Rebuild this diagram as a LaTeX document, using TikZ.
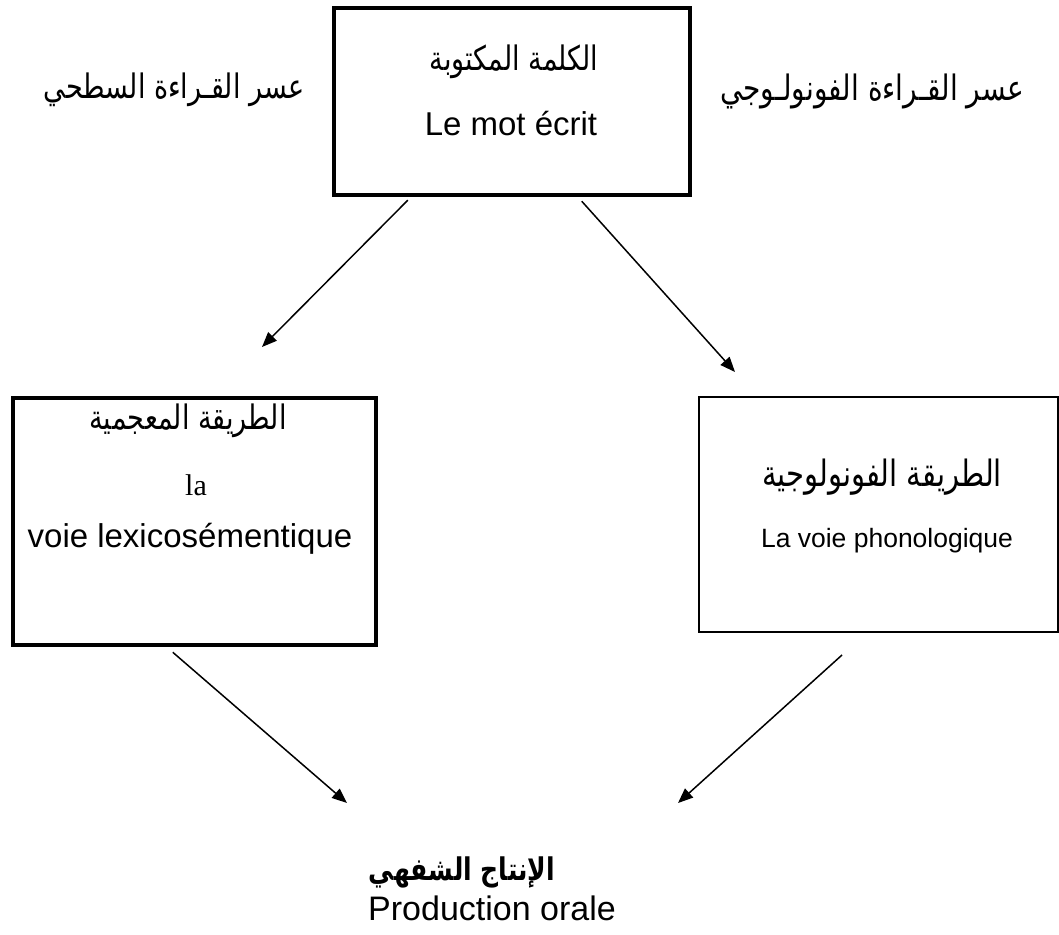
\documentclass[tikz,border=0pt]{standalone}
\usepackage{fontspec}
\usepackage{graphicx}
\setmainfont{Liberation Sans}
\newfontfamily\arabicfont[Script=Arabic]{DejaVu Sans}
\newfontfamily\seriffont{Liberation Serif}
\TeXXeTstate=1
\newcommand{\artext}[1]{\scalebox{1}[1.25]{\beginR #1\endR}}
\usepackage{tikz}
\usetikzlibrary{arrows.meta}
\usetikzlibrary{positioning}

\begin{document}
\begin{tikzpicture}[
        x=1pt, y=-1pt,
        % 
        thick box/.style={
            rectangle,
            draw,
            line width=4.5pt,
            inner sep=0pt,
        },
        % 
        thin box/.style={
            rectangle,
            draw,
            line width=2pt,
            inner sep=0pt,
        },
        arabic text/.style={font=\arabicfont\fontsize{27}{30}\selectfont, inner sep=0pt},
        latin text/.style={font=\fontsize{33}{38}\selectfont, inner sep=0pt, anchor=base},
        normal edge/.style={-{Triangle[length=15pt,width=12pt]}, line width=1.5pt}
        ]
        \useasboundingbox (0,0) rectangle (1059,934);
        
        % Vertices
        
        \node[thick box, minimum width=356pt, minimum height=187pt] (mot) at (512,101.5) {};
        \node[arabic text] (mot-ar) at (514,62) {\artext{الكلمة المكتوبة}};
        \node[latin text] (mot-fr) at (511,135) {Le mot écrit};
        
        \node[arabic text] (surf) at (174,90) {\artext{عسر القـراءة السطحي}};
        \node[arabic text, font=\arabicfont\fontsize{28}{30}\selectfont] (phon) at (872,91) {\artext{عسر القـراءة الفونولـوجي}};
        
        \node[thick box, minimum width=363pt, minimum height=247pt] (lex) at (194.5,521.5) {};
        \node[arabic text] (lex-ar) at (188,421) {\artext{الطريقة المعجمية}};
        \node[latin text, font=\seriffont\fontsize{30}{34}\selectfont] (lex-la) at (196,495) {la};
        \node[latin text] (lex-fr) at (190,547) {voie lexicosémentique};
        
        \node[thin box, minimum width=359pt, minimum height=235pt] (pho) at (878.5,514.5) {};
        \node[arabic text, font=\arabicfont\fontsize{29}{32}\selectfont] (pho-ar) at (882,477) {\artext{الطريقة الفونولوجية}};
        \node[latin text, font=\fontsize{26.5}{30}\selectfont] (pho-fr) at (887,547) {La voie phonologique};
        
        \node[arabic text, font=\arabicfont\bfseries\fontsize{25}{30}\selectfont] (oral-ar) at (462,872) {\artext{الإنتاج الشفهي}};
        \node[latin text, font=\fontsize{34}{38}\selectfont] (oral-fr) at (492,920) {Production orale};
        
        \coordinate (lex-in) at (262,347);
        \coordinate (pho-in) at (735,372);
        \coordinate (oral-in-l) at (347,803);
        \coordinate (oral-in-r) at (678,803);
        
        % Edges
        
        \draw[normal edge] ([xshift=76pt,yshift=-3pt]mot.south west) to (lex-in);
        \draw[normal edge] ([xshift=250pt,yshift=-4pt]mot.south west) to (pho-in);
        %				
        \draw[normal edge] ([xshift=162pt,yshift=-5pt]lex.south west) to (oral-in-l);
        \draw[normal edge] ([xshift=144pt,yshift=-22pt]pho.south west) to (oral-in-r);
        % 		
    \end{tikzpicture}
\end{document}
